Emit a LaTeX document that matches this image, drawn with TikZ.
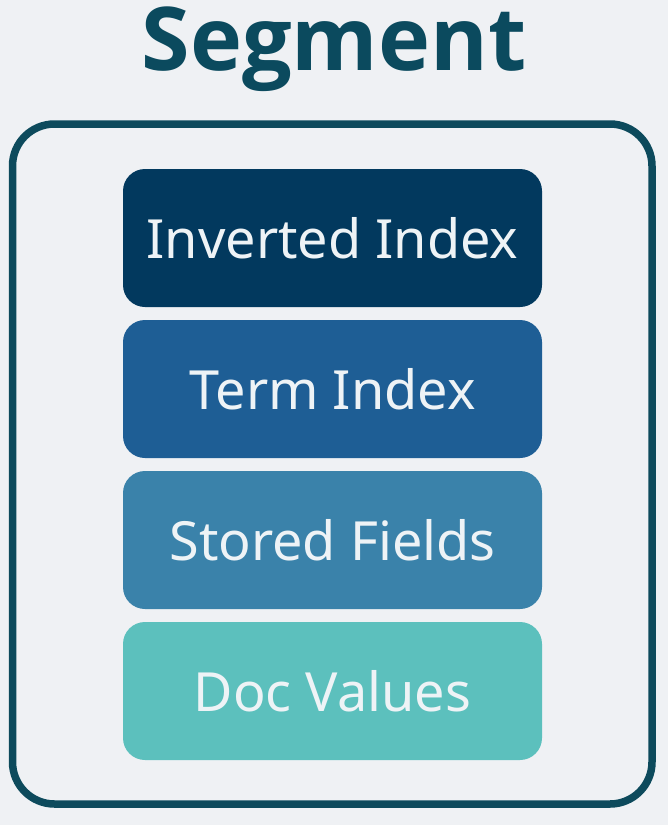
\documentclass[tikz,border=0pt]{standalone}
\usepackage{fontspec}
\setmainfont{Noto Sans}
\newfontfamily\headfont{Open Sans}
\definecolor{pagebg}{HTML}{EFF1F4}
\definecolor{framecol}{HTML}{0D4A5C}
\definecolor{titlecol}{HTML}{0B4A5E}
\definecolor{layerA}{HTML}{02395E}
\definecolor{layerB}{HTML}{1E5E95}
\definecolor{layerC}{HTML}{3A82AA}
\definecolor{layerD}{HTML}{5CC0BD}
\definecolor{labelcol}{HTML}{EEF3F6}
\begin{document}
\begin{tikzpicture}[x=1pt,y=-1pt,
  layer/.style={rounded corners=22pt, minimum width=419pt, minimum height=138pt,
    inner sep=0pt, text=labelcol, font=\fontsize{54}{60}\selectfont},
  frame/.style={draw=framecol, line width=7.5pt, rounded corners=42pt}]
  % page
  \fill[pagebg] (0,0) rectangle (668,825);
  \useasboundingbox (0,0) rectangle (668,825);
  % title
  \node[text=titlecol, font=\headfont\fontsize{88}{100}\selectfont\bfseries] (title) at (334,49) {Segment};
  % outer segment frame
  \draw[frame] (12.5,124) rectangle (652,804);
  % stacked layers
  \node[layer, fill=layerA] (inv)  at (332.5,238) {Inverted Index};
  \node[layer, fill=layerB] (term) at (332.5,389) {Term Index};
  \node[layer, fill=layerC] (stor) at (332.5,540) {Stored Fields};
  \node[layer, fill=layerD] (doc)  at (332.5,691) {Doc Values};
\end{tikzpicture}
\end{document}
